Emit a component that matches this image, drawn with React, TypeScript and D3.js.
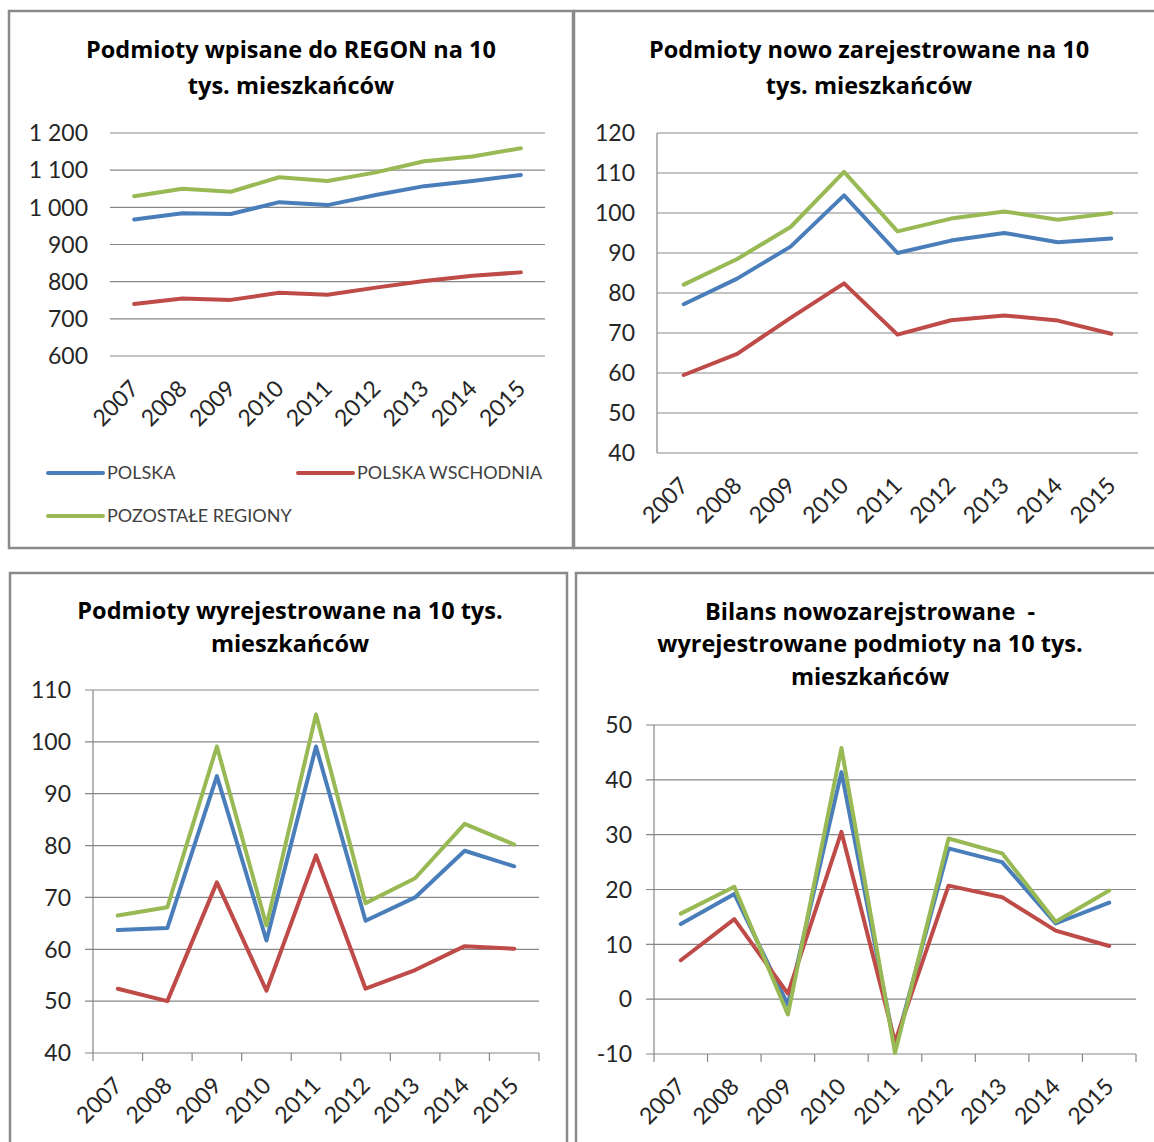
import React from "react";
import * as d3 from "d3";

const years = ["2007", "2008", "2009", "2010", "2011", "2012", "2013", "2014", "2015"];
const seriesNames = ["POLSKA", "POLSKA WSCHODNIA", "POZOSTAŁE REGIONY"];
const seriesColors = ["#4A7EBB", "#BE4B48", "#98B954"];

const regonPolska = [967, 984, 982, 1014, 1006, 1033, 1057, 1071, 1087];
const regonWschodnia = [740, 755, 751, 770, 765, 784, 802, 816, 825];
const regonPozostale = [1030, 1050, 1042, 1081, 1071, 1094, 1124, 1137, 1159];
const regonTicks = [600, 700, 800, 900, 1000, 1100, 1200];

const nowePolska = [77.2, 83.6, 91.6, 104.4, 90.0, 93.1, 95.0, 92.7, 93.6];
const noweWschodnia = [59.5, 64.8, 73.8, 82.4, 69.6, 73.2, 74.4, 73.1, 69.8];
const nowePozostale = [82.1, 88.5, 96.5, 110.3, 95.4, 98.6, 100.4, 98.3, 100.0];
const noweTicks = [40, 50, 60, 70, 80, 90, 100, 110, 120];

const wyrPolska = [63.7, 64.1, 93.4, 61.7, 99.1, 65.5, 70.0, 79.0, 76.0];
const wyrWschodnia = [52.4, 50.0, 72.9, 52.0, 78.1, 52.4, 56.0, 60.6, 60.1];
const wyrPozostale = [66.5, 68.1, 99.1, 64.6, 105.3, 68.9, 73.7, 84.2, 80.2];
const wyrTicks = [40, 50, 60, 70, 80, 90, 100, 110];

const bilPolska = [13.7, 19.2, -1.0, 41.4, -8.8, 27.5, 25.0, 13.8, 17.6];
const bilWschodnia = [7.1, 14.6, 1.0, 30.5, -7.8, 20.7, 18.6, 12.5, 9.7];
const bilPozostale = [15.6, 20.5, -2.8, 45.8, -9.8, 29.3, 26.6, 14.1, 19.8];
const bilTicks = [-10, 0, 10, 20, 30, 40, 50];

const titleRegon = ["Podmioty wpisane do REGON na 10", "tys. mieszkańców"];
const titleNowe = ["Podmioty nowo zarejestrowane na 10", "tys. mieszkańców"];
const titleWyr = ["Podmioty wyrejestrowane na 10 tys.", "mieszkańców"];
const titleBil = ["Bilans nowozarejstrowane  -", "wyrejestrowane podmioty na 10 tys.", "mieszkańców"];

const locale = d3.formatLocale({
  decimal: ",",
  thousands: "\u00a0",
  grouping: [3],
  currency: ["", ""],
  minus: "-",
});
const fmt = locale.format(",d");

const FONT = "Lato, 'Open Sans', sans-serif";
const TITLE_FONT = "'Open Sans', Lato, sans-serif";

type PanelProps = {
  border: [number, number, number, number];
  title: string[];
  titleX: number;
  titleY: number[];
  plot: { left: number; right: number; top: number; bottom: number };
  ticks: number[];
  data: number[][];
  axis: "none" | "plain" | "ticks";
};

function Panel({ border, title, titleX, titleY, plot, ticks, data, axis }: PanelProps) {
  const x = d3.scaleBand<string>().domain(years).range([plot.left, plot.right]);
  const y = d3
    .scaleLinear()
    .domain([ticks[0], ticks[ticks.length - 1]])
    .range([plot.bottom, plot.top]);
  const line = d3
    .line<number>()
    .x((_, i) => (x(years[i]) as number) + x.bandwidth() / 2)
    .y((d) => y(d));
  const tickLen = axis === "ticks" ? 8 : 0;
  const axisBoundaries = years.map((yr) => x(yr) as number).concat([plot.right]);
  return (
    <g>
      <rect
        x={border[0]}
        y={border[1]}
        width={border[2] - border[0]}
        height={border[3] - border[1]}
        fill="#fff"
        stroke="#8a8a8a"
        strokeWidth={2.5}
      />
      {title.map((t, i) => (
        <text
          key={i}
          x={titleX}
          y={titleY[i]}
          textAnchor="middle"
          dy="0.35em"
          fontFamily={TITLE_FONT}
          fontWeight={700}
          fontSize={23.5}
          fill="#000"
          style={{ whiteSpace: "pre" }}
        >
          {t}
        </text>
      ))}
      {ticks.map((t) => (
        <line
          key={"g" + t}
          x1={plot.left - tickLen}
          x2={plot.right}
          y1={y(t)}
          y2={y(t)}
          stroke="#878787"
          strokeWidth={1.2}
        />
      ))}
      {ticks.map((t) => (
        <text
          key={"l" + t}
          x={plot.left - 22}
          y={y(t)}
          dy="0.36em"
          textAnchor="end"
          fontFamily={FONT}
          fontSize={23}
          fill="#262626"
        >
          {fmt(t)}
        </text>
      ))}
      {axis !== "none" && (
        <line x1={plot.left} x2={plot.left} y1={plot.top} y2={plot.bottom} stroke="#878787" strokeWidth={1.2} />
      )}
      {axis === "ticks" &&
        axisBoundaries.map((bx, i) => (
          <line key={"t" + i} x1={bx} x2={bx} y1={plot.bottom} y2={plot.bottom + tickLen} stroke="#878787" strokeWidth={1.2} />
        ))}
      {years.map((yr) => {
        const cx = (x(yr) as number) + x.bandwidth() / 2 + 6;
        const cy = plot.bottom + 34;
        return (
          <text
            key={"x" + yr}
            x={cx}
            y={cy}
            transform={`rotate(-45, ${cx}, ${cy})`}
            textAnchor="end"
            fontFamily={FONT}
            fontSize={23}
            fill="#262626"
          >
            {yr}
          </text>
        );
      })}
      {data.map((d, i) => (
        <path
          key={"s" + i}
          d={line(d) as string}
          fill="none"
          stroke={seriesColors[i]}
          strokeWidth={4}
          strokeLinejoin="round"
          strokeLinecap="round"
        />
      ))}
    </g>
  );
}

function Legend() {
  const items = [
    { x: 48, y: 473 },
    { x: 298, y: 473 },
    { x: 48, y: 516 },
  ];
  return (
    <g>
      {items.map((it, i) => (
        <g key={i}>
          <line x1={it.x} x2={it.x + 55} y1={it.y} y2={it.y} stroke={seriesColors[i]} strokeWidth={4} strokeLinecap="round" />
          <text x={it.x + 59} y={it.y} dy="0.36em" fontFamily={FONT} fontSize={18} fill="#404040">
            {seriesNames[i]}
          </text>
        </g>
      ))}
    </g>
  );
}

export default function App() {
  return (
    <svg
      width={1154}
      height={1142}
      style={{ position: "absolute", left: 0, top: 0, background: "#fff" }}
    >
      <rect width={1154} height={1142} fill="#fff" />
      <Panel
        border={[9, 11, 573, 548]}
        title={titleRegon}
        titleX={291}
        titleY={[50, 86]}
        plot={{ left: 110, right: 545, top: 133, bottom: 356 }}
        ticks={regonTicks}
        data={[regonPolska, regonWschodnia, regonPozostale]}
        axis="none"
      />
      <Legend />
      <Panel
        border={[574, 11, 1170, 548]}
        title={titleNowe}
        titleX={869}
        titleY={[50, 86]}
        plot={{ left: 657, right: 1138, top: 133, bottom: 453 }}
        ticks={noweTicks}
        data={[nowePolska, noweWschodnia, nowePozostale]}
        axis="plain"
      />
      <Panel
        border={[10, 573, 567, 1160]}
        title={titleWyr}
        titleX={290}
        titleY={[611, 644]}
        plot={{ left: 93, right: 539, top: 690, bottom: 1053 }}
        ticks={wyrTicks}
        data={[wyrPolska, wyrWschodnia, wyrPozostale]}
        axis="ticks"
      />
      <Panel
        border={[576, 573, 1170, 1160]}
        title={titleBil}
        titleX={870}
        titleY={[612, 644, 677]}
        plot={{ left: 654, right: 1136, top: 725, bottom: 1054 }}
        ticks={bilTicks}
        data={[bilPolska, bilWschodnia, bilPozostale]}
        axis="ticks"
      />
    </svg>
  );
}
